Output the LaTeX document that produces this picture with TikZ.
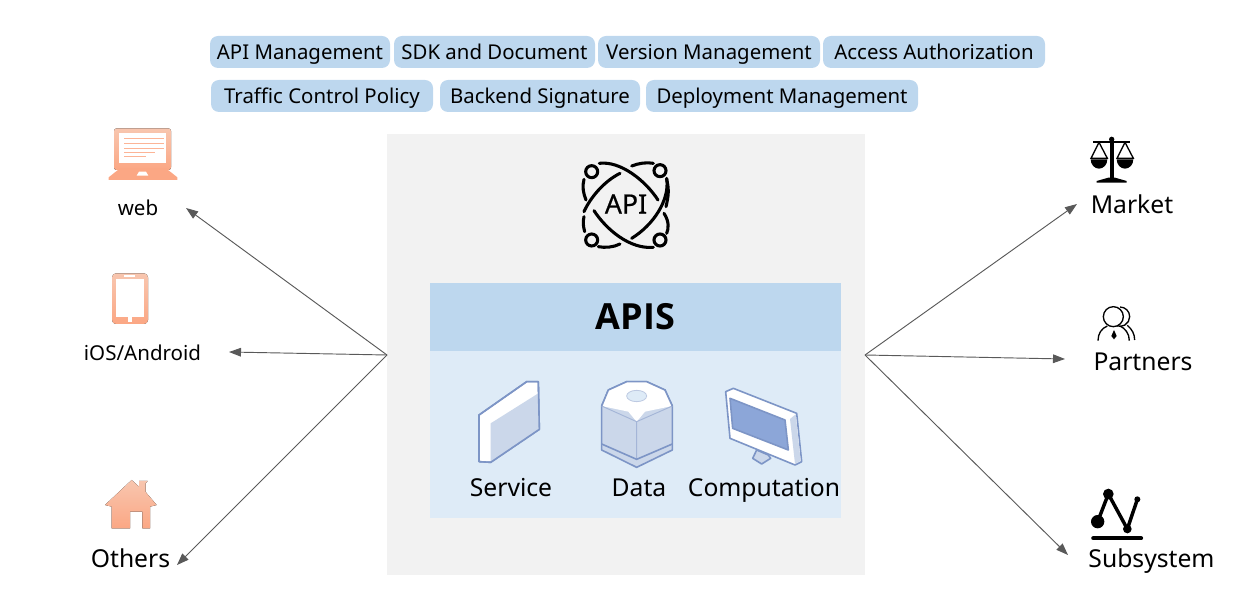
\documentclass[tikz,border=0pt]{standalone}
\usepackage{fontspec}
\setmainfont{Noto Sans}
\newfontfamily\heavyfont{Open Sans}
\newfontfamily\mediumfont[FakeBold=0.6]{Noto Sans}
\usetikzlibrary{arrows.meta}
\definecolor{chipblue}{HTML}{BDD7EE}
\definecolor{paleblue}{HTML}{DEEBF7}
\definecolor{panelgray}{HTML}{F2F2F2}
\definecolor{arrowgray}{HTML}{595959}
\definecolor{iconline}{HTML}{7D95C6}
\definecolor{iconface}{HTML}{CBD7EA}
\definecolor{iconscreen}{HTML}{8CA6D8}
\definecolor{peachtop}{HTML}{F8C6AF}
\definecolor{peachlow}{HTML}{FBA784}
\tikzset{
    chip/.style={fill=chipblue, rounded corners=6pt, inner xsep=0pt, inner ysep=0pt, text height=13pt, text depth=2pt, minimum height=24pt, font=\fontsize{15.3}{18}\selectfont},
    caption/.style={inner sep=0pt, font=\fontsize{18.5}{22}\selectfont},
    smallcaption/.style={inner sep=0pt, font=\fontsize{15.4}{18}\selectfont},
    link/.style={draw=arrowgray, line width=0.7pt, -{Triangle[length=9pt,width=6.5pt]}},
    peach/.style={top color=peachtop, bottom color=peachlow, draw=none},
    box3d/.style={draw=iconline, line width=1.2pt, line join=round},
}
\begin{document}
\begin{tikzpicture}[x=0.75pt, y=-0.75pt]
    \useasboundingbox (0,0) rectangle (1257,598);

    % Etiquetas superiores
    \node[chip, minimum width=135pt] (apimgmt) at (300,52) {API Management};
    \node[chip, minimum width=150.75pt] (sdkdoc) at (494.5,52) {SDK and Document};
    \node[chip, minimum width=166.5pt] (version) at (709,52) {Version Management};
    \node[chip, minimum width=166.5pt] (access) at (934,52) {Access Authorization};
    \node[chip, minimum width=166.5pt] (traffic) at (322,96) {Traffic Control Policy};
    \node[chip, minimum width=150pt] (backend) at (540,96) {Backend Signature};
    \node[chip, minimum width=204pt] (deploy) at (782,96) {Deployment Management};

    % Panel central
    \fill[panelgray] (387,134) rectangle (865,575);
    \fill[chipblue] (430,283) rectangle (841,351);
    \fill[paleblue] (430,351) rectangle (841,518);
    \node[inner sep=0pt, font=\fontsize{27}{34}\selectfont\heavyfont\bfseries] (apis) at (635.5,317) {APIS};
    \node[caption] (service) at (511,488) {Service};
    \node[caption] (data) at (639,488) {Data};
    \node[caption] (computation) at (764,490) {Computation};

    % Icono API
    \node[inner sep=0pt, font=\fontsize{20}{24}\selectfont\mediumfont] (apitext) at (626,204) {API};
    \begin{scope}[shift={(570,150)}, x=0.25pt, y=-0.25pt, line width=2.3pt, line cap=round]
        \draw (65,65) circle (18);
        \draw (270,62) circle (18);
        \draw (65,270) circle (18);
        \draw (270,270) circle (18);
        \draw (88,40) .. controls (150,32) and (225,90) .. (264,150);
        \draw (290,88) .. controls (298,120) and (295,140) .. (288,170);
        \draw (282,190) .. controls (298,215) and (296,235) .. (290,250);
        \draw (42,88) .. controls (36,110) and (40,130) .. (48,150);
        \draw (72,182) .. controls (110,240) and (180,298) .. (250,292);
        \draw (250,40) .. controls (230,36) and (205,40) .. (185,48);
        \draw (150,70) .. controls (100,95) and (60,145) .. (42,185) ;
        \draw (42,200) .. controls (38,215) and (40,230) .. (44,245);
        \draw (290,85) .. controls (300,150) and (250,225) .. (185,265);
        \draw (150,282) .. controls (130,292) and (105,294) .. (85,290);
    \end{scope}

    % Icono Service
    \begin{scope}[shift={(460,370)}, x=0.25pt, y=-0.25pt]
        \filldraw[box3d, fill=white] (57,135) -- (200,35) -- (235,35) -- (238,178) -- (92,277) -- (57,275) -- cycle;
        \filldraw[draw=none, fill=iconface] (92,160) -- (235,70) -- (238,178) -- (92,277) -- cycle;
        \draw[box3d] (57,135) -- (200,35) -- (235,35) -- (238,178) -- (92,277) -- (57,275) -- cycle;
    \end{scope}

    % Icono Data
    \begin{scope}[shift={(460,370)}, x=0.25pt, y=-0.25pt]
        \filldraw[box3d, fill=iconface] (425,108) -- (445,60) -- (500,35) -- (560,35) -- (615,60) -- (637,108) -- (637,240) -- (530,292) -- (425,240) -- cycle;
        \fill[white] (425,108) -- (445,60) -- (500,35) -- (560,35) -- (615,60) -- (637,108) -- (555,125) -- (530,155) -- (505,125) -- cycle;
        \fill[paleblue] (530,78) ellipse (30 and 17);
        \draw[iconline!50, line width=0.6pt] (530,78) ellipse (30 and 17);
        \draw[iconline!70, line width=0.7pt] (425,108) -- (530,155) -- (637,108) (530,155) -- (530,268);
        \draw[box3d] (425,222) -- (530,268) -- (637,222);
        \draw[box3d] (425,108) -- (445,60) -- (500,35) -- (560,35) -- (615,60) -- (637,108);
    \end{scope}

    % Icono Computation
    \begin{scope}[shift={(460,370)}, x=0.25pt, y=-0.25pt]
        \filldraw[box3d, fill=iconface] (890,240) -- (925,255) -- (932,265) -- (905,282) -- (878,265) -- cycle;
        \filldraw[box3d, fill=white] (797,65) -- (820,55) -- (1010,130) -- (1025,275) -- (1005,285) -- (810,205) -- cycle;
        \fill[iconface] (990,147) -- (1007,133) -- (1022,273) -- (1005,282) -- cycle;
        \filldraw[box3d, fill=iconscreen] (810,85) -- (975,150) -- (985,240) -- (818,175) -- cycle;
    \end{scope}

    % Icono web
    \begin{scope}[shift={(90,120)}, x=0.25pt, y=-0.25pt]
        \fill[peach, rounded corners=2pt] (72,25) rectangle (243,150);
        \fill[white] (87,40) rectangle (228,130);
        \draw[peachlow!85, line width=1.1pt] (103,55) -- (222,55) (103,70) -- (222,70) (103,85) -- (222,85) (103,97) -- (195,97) (103,110) -- (168,110);
        \fill[peachlow] (56,180) -- (56,172) -- (90,145) -- (228,145) -- (262,172) -- (262,180) -- cycle;
        \fill[white] (140,167) -- (147,155) -- (168,155) -- (175,167) -- cycle;
    \end{scope}
    \node[smallcaption] (web) at (138,208) {web};

    % Icono iOS/Android
    \begin{scope}[shift={(90,120)}, x=0.25pt, y=-0.25pt]
        \fill[peach, rounded corners=3pt] (66,460) rectangle (174,612);
        \fill[white] (78,478) rectangle (162,590);
        \fill[white] (103,466) rectangle (135,470);
        \fill[white] (113,592) rectangle (127,605);
    \end{scope}
    \node[smallcaption] (mobile) at (142.5,352.5) {iOS/Android};

    % Icono Others
    \begin{scope}[shift={(90,470)}, x=0.25pt, y=-0.25pt]
        \fill[peach] (125,30) -- (147,50) -- (147,33) -- (173,33) -- (167,40) -- (167,66) -- (200,105) -- (180,110) -- (180,175) -- (157,175) -- (157,125) -- (120,125) -- (120,175) -- (65,175) -- (65,110) -- (45,105) -- cycle;
    \end{scope}
    \node[caption] (others) at (130.5,558) {Others};

    % Icono Market
    \begin{scope}[shift={(1070,125)}, x=0.25pt, y=-0.25pt, line width=1pt]
        \fill (125,43) circle (8);
        \fill (119,43) rectangle (131,160);
        \fill (115,158) -- (135,158) -- (170,168) -- (170,173) -- (80,173) -- (80,168) -- cycle;
        \draw[line width=1.6pt] (70,50) -- (180,50);
        \draw (87,52) -- (63,100) -- (112,100) -- cycle;
        \draw (165,52) -- (141,100) -- (190,100) -- cycle;
        \fill (62,103) arc (180:360:25 and -28) -- cycle;
        \fill (140,103) arc (180:360:25 and -28) -- cycle;
    \end{scope}
    \node[caption] (market) at (1132,204) {Market};

    % Icono Partners
    \begin{scope}[shift={(1070,125)}, x=0.25pt, y=-0.25pt, line width=1pt]
        \draw (150,546) arc (-90:110:29);
        \filldraw[fill=white] (130,575) circle (30);
        \draw (84,647) .. controls (84,625) and (95,610) .. (112,603);
        \draw (150,603) .. controls (165,610) and (178,625) .. (178,647);
        \draw (172,601) .. controls (186,613) and (194,627) .. (194,645);
        \fill (132,615) -- (140,633) -- (132,643) -- (124,633) -- cycle;
    \end{scope}
    \node[caption] (partners) at (1143,362) {Partners};

    % Icono Subsystem
    \begin{scope}[shift={(1070,480)}, x=0.25pt, y=-0.25pt]
        \draw[line width=2.6pt] (83,125) -- (115,42) -- (172,147) -- (202,58);
        \fill (83,125) circle (20);
        \fill (115,42) circle (16);
        \fill (172,147) circle (13);
        \fill (202,58) circle (9);
        \draw[line width=3.2pt, line cap=round] (70,175) -- (213,175);
    \end{scope}
    \node[caption] (subsystem) at (1151.5,561) {Subsystem};

    % Flechas
    \coordinate (hubleft) at (387,355);
    \coordinate (hubright) at (865,355);
    \coordinate (tipweb) at (186,208);
    \coordinate (tipmobile) at (229,352);
    \coordinate (tipothers) at (177,565);
    \coordinate (tipmarket) at (1077,204);
    \coordinate (tippartners) at (1065,359);
    \coordinate (tipsubsystem) at (1068,555);
    \draw[link] (hubleft) -- (tipweb);
    \draw[link] (hubleft) -- (tipmobile);
    \draw[link] (hubleft) -- (tipothers);
    \draw[link] (hubright) -- (tipmarket);
    \draw[link] (hubright) -- (tippartners);
    \draw[link] (hubright) -- (tipsubsystem);
\end{tikzpicture}
\end{document}
